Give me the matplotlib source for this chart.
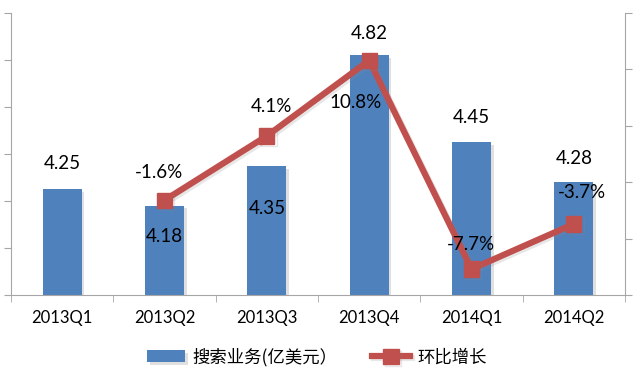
import matplotlib
matplotlib.use("Agg")
import matplotlib.pyplot as plt
import matplotlib.patheffects as pe
import numpy as np

categories = ["2013Q1", "2013Q2", "2013Q3", "2013Q4", "2014Q1", "2014Q2"]
revenue = [4.25, 4.18, 4.35, 4.82, 4.45, 4.28]
growth_cats = ["2013Q2", "2013Q3", "2013Q4", "2014Q1", "2014Q2"]
growth = [-1.6, 4.1, 10.8, -7.7, -3.7]
growth_labels = ["-1.6%", "4.1%", "10.8%", "-7.7%", "-3.7%"]
bar_legend = "搜索业务(亿美元）"
line_legend = "环比增长"

plt.rcParams['font.family'] = ['Lato', 'Noto Sans CJK SC', 'DejaVu Sans']

fig = plt.figure(figsize=(6.4, 3.77), dpi=100)
ax = fig.add_axes([11/640, 82/377, 614/640, 282/377])
ax2 = ax.twinx()

x = np.arange(len(categories))
blue = "#4F81BD"
red = "#C0504D"
gray = "#A6A6A6"

shadow = [pe.SimplePatchShadow(offset=(2, -2), shadow_rgbFace="#999999", alpha=0.3), pe.Normal()]
bars = ax.bar(x, revenue, width=0.38, color=blue, zorder=2, label=bar_legend, path_effects=shadow)
ax.set_ylim(3.8, 5.0)
ax.set_yticks(np.arange(3.8, 5.01, 0.2))
ax.set_yticklabels([])
ax.set_xlim(-0.5, len(categories) - 0.5)
ax.set_xticks(x)
ax.set_xticklabels(categories, fontsize=12, family=['Lato', 'DejaVu Sans'])
ax.set_xticks(np.arange(-0.5, len(categories), 1.0), minor=True)
ax.tick_params(axis='x', which='major', length=0, pad=11, colors='#000000')
ax.tick_params(axis='x', which='minor', length=5, color=gray, direction='out')
ax.tick_params(axis='y', length=5, color=gray, direction='out')

gx = [categories.index(c) for c in growth_cats]
lshadow = [pe.SimpleLineShadow(offset=(1.5, -1.5), shadow_color="#888888", alpha=0.2), pe.Normal()]
ax2.plot(gx, growth, color=red, lw=4.5, marker='s', markersize=11, zorder=3,
         label=line_legend, path_effects=lshadow)
ax2.set_ylim(-10, 15)
ax2.set_yticks(np.arange(-10, 15.1, 5))
ax2.set_yticklabels([])
ax2.tick_params(axis='y', length=5, color=gray, direction='out')

for a in (ax, ax2):
    for s in a.spines.values():
        s.set_visible(False)
ax.spines['left'].set_visible(True)
ax.spines['left'].set_color(gray)
ax.spines['bottom'].set_visible(True)
ax.spines['bottom'].set_color(gray)
ax2.spines['right'].set_visible(True)
ax2.spines['right'].set_color(gray)

bar_offsets = [(0, 26), (0, -31), (0, -43), (0, 22), (0, 25), (0, 24)]
for xi, v, off in zip(x, revenue, bar_offsets):
    ax.annotate(f"{v:.2f}", (xi, v), xytext=off, textcoords='offset pixels',
                ha='center', va='center', fontsize=13.5, zorder=5)

line_offsets = [(-6, 28), (5, 29), (-14, -42), (-1, 25), (8, 31)]
for xi, v, lab, off in zip(gx, growth, growth_labels, line_offsets):
    ax2.annotate(lab, (xi, v), xytext=off, textcoords='offset pixels',
                 ha='center', va='center', fontsize=13.5, zorder=5)

h1, l1 = ax.get_legend_handles_labels()
h2, l2 = ax2.get_legend_handles_labels()
fig.legend(h1 + h2, l1 + l2, loc='center', bbox_to_anchor=(0.495, 20/377), ncol=2,
           frameon=False, handlelength=2.2, columnspacing=2.0, handletextpad=0.4,
           prop={'family': ['Noto Sans CJK SC', 'DejaVu Sans'], 'size': 12.5})

fig.savefig("out.png", dpi=100)
